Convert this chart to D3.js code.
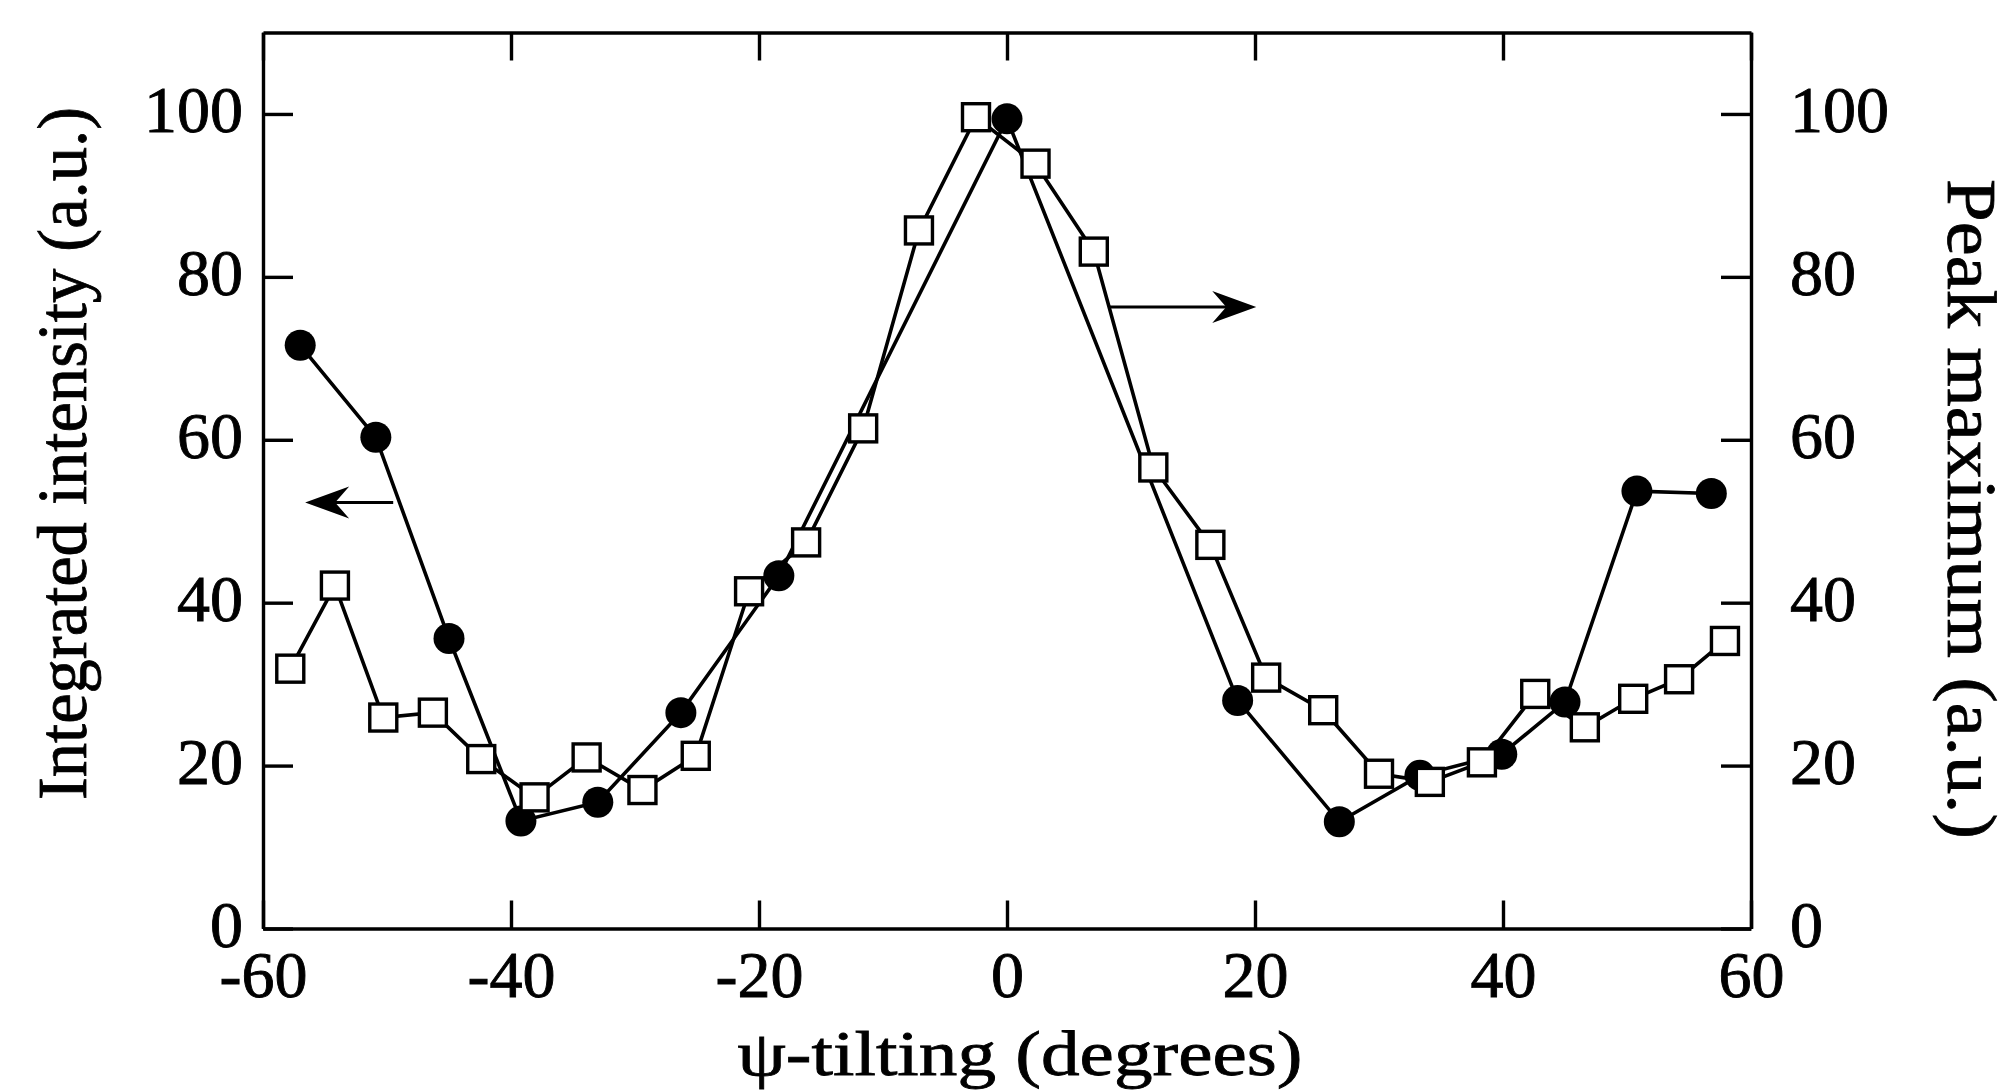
<!DOCTYPE html>
<html>
<head>
<meta charset="utf-8">
<script src="https://cdn.jsdelivr.net/npm/d3@7"></script>
<style>
  html, body { margin: 0; padding: 0; background: #fff; }
  svg { display: block; }
</style>
</head>
<body>
<svg id="chart" width="2009" height="1091"></svg>
<script>
// psi-tilting scan: integrated intensity (filled circles, left axis)
// and peak maximum (open squares, right axis)

const intTilt  = [-57.0, -50.9, -45.0, -39.2, -33.0, -26.3, -18.4, 0.0, 18.6, 26.8, 33.3, 39.9, 45.0, 50.8, 56.8];
const intValue = [71.6, 60.3, 35.6, 13.2, 15.5, 26.5, 43.3, 99.4, 28.0, 13.1, 18.8, 21.4, 27.8, 53.7, 53.4];

const peakTilt  = [-57.8, -54.2, -50.3, -46.3, -42.4, -38.1, -33.9, -29.4, -25.1, -20.8, -16.2, -11.6, -7.1, -2.5,
                   2.3, 7.0, 11.8, 16.4, 20.9, 25.5, 30.0, 34.1, 38.3, 42.6, 46.6, 50.5, 54.2, 57.9];
const peakValue = [31.9, 42.1, 25.9, 26.5, 20.8, 16.1, 21.0, 17.0, 21.2, 41.4, 47.4, 61.4, 85.7, 99.6,
                   93.9, 83.1, 56.6, 47.1, 30.8, 26.8, 19.0, 18.0, 20.4, 28.8, 24.7, 28.2, 30.6, 35.3];

const xTicks = [-60, -40, -20, 0, 20, 40, 60];
const yTicks = [0, 20, 40, 60, 80, 100];

// arrows telling which axis goes with which curve (data units)
const arrowLeft  = { x1: -49.5, x2: -56.6, y: 52.3 };
const arrowRight = { x1: 8.3, x2: 20.1, y: 76.3 };

const margin = { top: 32.5, right: 258, bottom: 162.5, left: 263 };
const W = 2009, H = 1091;
const width = W - margin.left - margin.right;
const height = H - margin.top - margin.bottom;
const font = "'Liberation Serif', 'DejaVu Serif', serif";

const svg = d3.select("#chart");
const g = svg.append("g").attr("transform", `translate(${margin.left},${margin.top})`);

const x = d3.scaleLinear().domain([-60, 60]).range([0, width]);
const yL = d3.scaleLinear().domain([0, 110]).range([height, 0]);
const yR = d3.scaleLinear().domain([0, 110]).range([height, 0]);

const fmt = d => String(d);

function styleAxis(sel) {
  sel.selectAll("path, line").attr("stroke", "#000").attr("stroke-width", 3.4);
  sel.selectAll("text")
    .attr("fill", "#000")
    .attr("stroke", "#000").attr("stroke-width", 0.9)
    .style("font-family", font)
    .style("font-size", "66px");
}

g.append("g")
  .attr("transform", `translate(0,${height})`)
  .call(d3.axisBottom(x).tickValues(xTicks).tickSize(-28).tickSizeOuter(0).tickPadding(22).tickFormat(fmt))
  .call(styleAxis);

g.append("g")
  .call(d3.axisTop(x).tickValues(xTicks).tickSize(-28).tickSizeOuter(0).tickFormat(""))
  .call(styleAxis);

g.append("g")
  .call(d3.axisLeft(yL).tickValues(yTicks).tickSize(-30).tickSizeOuter(0).tickPadding(20).tickFormat(fmt))
  .call(styleAxis)
  .selectAll("text").attr("dy", "0.27em");

g.append("g")
  .attr("transform", `translate(${width},0)`)
  .call(d3.axisRight(yR).tickValues(yTicks).tickSize(-30).tickSizeOuter(0).tickPadding(39).tickFormat(fmt))
  .call(styleAxis)
  .selectAll("text").attr("dy", "0.27em");

// curves
const intData = intTilt.map((t, i) => [t, intValue[i]]);
const peakData = peakTilt.map((t, i) => [t, peakValue[i]]);

const lineL = d3.line().x(d => x(d[0])).y(d => yL(d[1]));
const lineR = d3.line().x(d => x(d[0])).y(d => yR(d[1]));

g.append("path").datum(intData)
  .attr("d", lineL).attr("fill", "none").attr("stroke", "#000").attr("stroke-width", 3.6);
g.append("path").datum(peakData)
  .attr("d", lineR).attr("fill", "none").attr("stroke", "#000").attr("stroke-width", 3.6);

g.selectAll("circle.int").data(intData).join("circle")
  .attr("class", "int")
  .attr("cx", d => x(d[0])).attr("cy", d => yL(d[1]))
  .attr("r", 15.5).attr("fill", "#000");

const sq = 27;
g.selectAll("rect.peak").data(peakData).join("rect")
  .attr("class", "peak")
  .attr("x", d => x(d[0]) - sq / 2).attr("y", d => yR(d[1]) - sq / 2)
  .attr("width", sq).attr("height", sq)
  .attr("fill", "#fff").attr("stroke", "#000").attr("stroke-width", 3.4);

// arrows
function arrow(a, yScale) {
  const x1 = x(a.x1), x2 = x(a.x2), yy = yScale(a.y);
  const dir = Math.sign(x2 - x1);
  g.append("line")
    .attr("x1", x1).attr("x2", x2 - dir * 20).attr("y1", yy).attr("y2", yy)
    .attr("stroke", "#000").attr("stroke-width", 2.8);
  const back = x2 - dir * 44, notch = x2 - dir * 30;
  g.append("path")
    .attr("d", `M${x2},${yy} L${back},${yy - 16} L${notch},${yy} L${back},${yy + 16} Z`)
    .attr("fill", "#000");
}
arrow(arrowLeft, yL);
arrow(arrowRight, yR);

// axis titles
const titleStyle = sel => sel
  .attr("text-anchor", "middle")
  .attr("fill", "#000").attr("stroke", "#000").attr("stroke-width", 0.8)
  .attr("lengthAdjust", "spacingAndGlyphs")
  .style("font-family", font);

svg.append("text")
  .attr("transform", `translate(86,${margin.top + height / 2 - 27}) rotate(-90)`)
  .attr("textLength", 693)
  .call(titleStyle)
  .style("font-size", "70px")
  .text("Integrated intensity (a.u.)");

svg.append("text")
  .attr("transform", `translate(1948,509) rotate(90)`)
  .attr("textLength", 660)
  .call(titleStyle)
  .style("font-size", "70px")
  .text("Peak maximum (a.u.)");

svg.append("text")
  .attr("x", 1020).attr("y", 1075)
  .attr("textLength", 565)
  .call(titleStyle)
  .style("font-size", "64px")
  .text("ψ-tilting (degrees)");
</script>
</body>
</html>
